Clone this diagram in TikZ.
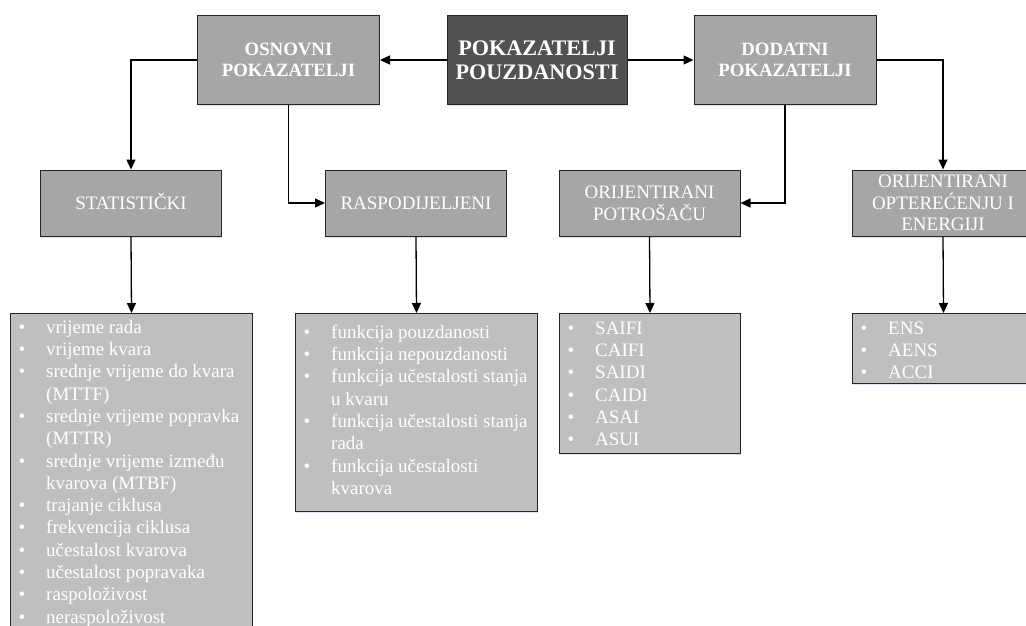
\documentclass[tikz,border=0pt]{standalone}
\usepackage{fontspec}
\setmainfont{Liberation Serif}
\usetikzlibrary{arrows.meta,shadows}
\definecolor{darkbox}{RGB}{82,82,82}
\definecolor{midbox}{RGB}{166,166,166}
\definecolor{listbox}{RGB}{191,191,191}
\definecolor{edgec}{RGB}{38,38,38}
\definecolor{shadowc}{RGB}{214,226,240}
\newcommand\bitem[1]{\makebox[27.5pt][l]{\textbullet}#1}
\newcommand\bcont[1]{\hspace*{27.5pt}#1}
\tikzset{
  base box/.style={draw=edgec, line width=1pt, inner sep=0pt, text=white, align=center,
    drop shadow={shadow xshift=0.8pt, shadow yshift=-1.6pt, fill=shadowc, opacity=0.9}},
  topbox/.style={base box, fill=darkbox, minimum width=180pt, minimum height=88pt,
    font=\fontsize{22.2}{24.3}\selectfont\bfseries},
  lvlone/.style={base box, fill=midbox, minimum width=182pt, minimum height=88pt,
    font=\fontsize{18.8}{21.7}\selectfont\bfseries},
  lvltwo/.style={base box, fill=midbox, minimum width=181pt, minimum height=66pt,
    font=\fontsize{19}{21.7}\selectfont},
  lbox/.style={base box, fill=listbox, anchor=north west},
  ltext/.style={inner sep=0pt, anchor=north west, align=left, text=white,
    font=\fontsize{19}{22.3}\selectfont},
  arr/.style={line width=1.3pt, draw=black, -{Triangle[length=10pt,width=9pt]}}
}
\begin{document}
\begin{tikzpicture}[x=1pt,y=-1pt]
\useasboundingbox (0,0) rectangle (1026,626);
\clip (0,0) rectangle (1026,626);

% top level
\node[topbox] (top) at (537,60) {POKAZATELJI\\POUZDANOSTI};
\node[lvlone] (osn) at (288.5,60) {OSNOVNI\\POKAZATELJI};
\node[lvlone] (dod) at (785,60) {DODATNI\\POKAZATELJI};

% second level
\node[lvltwo, text height=12.6pt, text depth=0pt] (stat) at (131,203) {STATISTIČKI};
\node[lvltwo] (rasp) at (416,203) {RASPODIJELJENI};
\node[lvltwo] (potr) at (649.5,203) {ORIJENTIRANI\\POTROŠAČU};
\node[lvltwo, minimum width=182pt] (ener) at (943,203) {ORIJENTIRANI\\OPTEREĆENJU I\\ENERGIJI};

% list boxes
\node[lbox, minimum width=242pt, minimum height=330pt] (l1) at (10,313) {};
\node[lbox, minimum width=242pt, minimum height=198pt] (l2) at (295,313) {};
\node[lbox, minimum width=181pt, minimum height=140pt] (l3) at (559,313) {};
\node[lbox, minimum width=182pt, minimum height=70pt] (l4) at (852,313) {};

\node[ltext] (l1t) at (18.5,317.4) {\strut\bitem{vrijeme rada}\\
\bitem{vrijeme kvara}\\
\bitem{srednje vrijeme do kvara}\\
\bcont{(MTTF)}\\
\bitem{srednje vrijeme popravka}\\
\bcont{(MTTR)}\\
\bitem{srednje vrijeme između}\\
\bcont{kvarova (MTBF)}\\
\bitem{trajanje ciklusa}\\
\bitem{frekvencija ciklusa}\\
\bitem{učestalost kvarova}\\
\bitem{učestalost popravaka}\\
\bitem{raspoloživost}\\
\bitem{neraspoloživost}};

\node[ltext] (l2t) at (303.5,322.4) {\strut\bitem{funkcija pouzdanosti}\\
\bitem{funkcija nepouzdanosti}\\
\bitem{funkcija učestalosti stanja}\\
\bcont{u kvaru}\\
\bitem{funkcija učestalosti stanja}\\
\bcont{rada}\\
\bitem{funkcija učestalosti}\\
\bcont{kvarova}};

\node[ltext] (l3t) at (567.5,318.4) {\strut\bitem{SAIFI}\\
\bitem{CAIFI}\\
\bitem{SAIDI}\\
\bitem{CAIDI}\\
\bitem{ASAI}\\
\bitem{ASUI}};

\node[ltext] (l4t) at (860.5,318.4) {\strut\bitem{ENS}\\
\bitem{AENS}\\
\bitem{ACCI}};

% connectors
\draw[arr] (top.west) -- (osn.east);
\draw[arr] (top.east) -- (dod.west);
\draw[arr] (osn.west) -| (stat.north);
\draw[arr] (osn.south) |- (rasp.west);
\draw[arr] (dod.south) |- (potr.east);
\draw[arr] (dod.east) -| (ener.north);
\draw[arr] (stat.south) -- (l1.north);
\draw[arr] (rasp.south) -- (l2.north);
\draw[arr] (potr.south) -- (l3.north);
\draw[arr] (ener.south) -- (l4.north);
\end{tikzpicture}
\end{document}
